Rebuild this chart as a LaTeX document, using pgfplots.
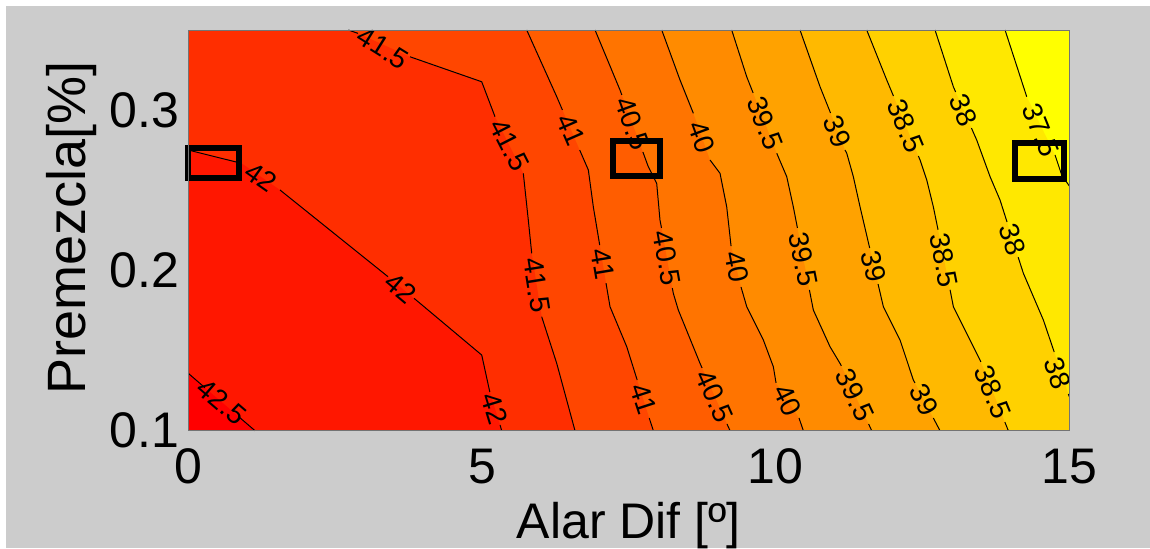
\documentclass[border=0pt]{standalone}
\usepackage{fontspec}
\setmainfont{Liberation Sans}
\usepackage{pgfplots}
\pgfplotsset{compat=1.18}
\definecolor{bgc}{RGB}{204,204,204}
\definecolor{k0}{RGB}{255,0,0}
\definecolor{k1}{RGB}{255,23,0}
\definecolor{k2}{RGB}{255,46,0}
\definecolor{k3}{RGB}{255,70,0}
\definecolor{k4}{RGB}{255,93,0}
\definecolor{k5}{RGB}{255,116,0}
\definecolor{k6}{RGB}{255,139,0}
\definecolor{k7}{RGB}{255,162,0}
\definecolor{k8}{RGB}{255,185,0}
\definecolor{k9}{RGB}{255,209,0}
\definecolor{k10}{RGB}{255,232,0}
\definecolor{k11}{RGB}{255,255,0}
\newcommand{\clfont}{\fontsize{14}{14}\selectfont}
\newcommand{\cl}[4]{\node[rotate=#3, font=\clfont, inner sep=0pt] at (axis cs:#1,#2) {#4};}
\begin{document}
\begin{tikzpicture}
\fill[white] (0,0) rectangle (575pt,274pt);
\fill[bgc] (3pt,0) rectangle (575pt,271pt);
\begin{axis}[
  at={(94.15pt,58.65pt)}, anchor=south west,
  scale only axis, width=440.5pt, height=200.35pt,
  xmin=0, xmax=15, ymin=0.1, ymax=0.35,
  clip=false,
  axis background/.style={fill=k11},
  axis on top,
  xtick={0,5,10,15}, xticklabels={0,5,10,15},
  ytick={0.1,0.2,0.3}, yticklabels={0.1,0.2,0.3},
  major tick length=0pt,
  tick style={draw=none},
  axis line style={draw=black!55, line width=0.5pt},
  xticklabel style={font=\fontsize{25}{25}\selectfont, anchor=north, inner sep=0pt, yshift=-8.8pt},
  yticklabel style={font=\fontsize{25}{25}\selectfont, anchor=east, inner sep=0pt, xshift=-4.5pt},
  xlabel={Alar Dif [º]},
  ylabel={Premezcla[\%]},
  xlabel style={font=\fontsize{25}{25}\selectfont, at={(axis description cs:0.5,-0.178)}, anchor=north, inner sep=0pt},
  ylabel style={font=\fontsize{27}{27}\selectfont, at={(axis description cs:-0.104,0.507)}, anchor=south, inner sep=0pt},
]
% ---------- filled bands (region above each level) ----------
\addplot[draw=none, fill=k10] coordinates {(13.906,0.35) (14.275,0.3084) (14.757,0.2720) (14.871,0.2595) (15,0.2527) (15,0.1) (0,0.1) (0,0.35)};
\addplot[draw=none, fill=k9] coordinates {(12.714,0.35) (13.026,0.3146) (13.065,0.3113) (13.334,0.2888) (13.424,0.2813) (13.651,0.2585) (13.821,0.2439) (13.940,0.2302) (14.129,0.2083) (14.218,0.1982) (14.558,0.1691) (14.743,0.1491) (14.985,0.1229) (15,0.1212) (15,0.1) (0,0.1) (0,0.35)};
\addplot[draw=none, fill=k8] coordinates {(11.551,0.35) (11.892,0.3188) (12.006,0.3088) (12.430,0.2714) (12.459,0.2689) (12.573,0.2564) (12.685,0.2397) (12.765,0.2254) (12.970,0.1879) (13.026,0.1774) (13.310,0.1566) (13.480,0.1441) (13.494,0.1429) (13.903,0.1054) (13.962,0.1) (0,0.1) (0,0.35)};
\addplot[draw=none, fill=k7] coordinates {(10.415,0.35) (10.756,0.3146) (10.935,0.2982) (11.182,0.2751) (11.211,0.2731) (11.323,0.2585) (11.437,0.2397) (11.601,0.2140) (11.744,0.1915) (11.834,0.1774) (12.118,0.1566) (12.345,0.1316) (12.372,0.1298) (12.685,0.1079) (12.799,0.1) (0,0.1) (0,0.35)};
\addplot[draw=none, fill=k6] coordinates {(9.252,0.35) (9.508,0.3208) (9.617,0.3107) (10.019,0.2731) (10.189,0.2585) (10.301,0.2397) (10.371,0.2265) (10.575,0.1878) (10.642,0.1753) (10.926,0.1524) (11.096,0.1420) (11.118,0.1404) (11.583,0.1042) (11.636,0.1) (0,0.1) (0,0.35)};
\addplot[draw=none, fill=k5] coordinates {(8.061,0.35) (8.372,0.3188) (8.599,0.2980) (8.883,0.2689) (9.053,0.2606) (9.167,0.2397) (9.241,0.2152) (9.411,0.1896) (9.508,0.1774) (9.791,0.1566) (9.961,0.1399) (10.007,0.1298) (10.398,0.1079) (10.472,0.1) (0,0.1) (0,0.35)};
\addplot[draw=none, fill=k4] coordinates {(6.925,0.35) (7.350,0.3126) (7.381,0.3095) (7.740,0.2739) (7.832,0.2647) (7.975,0.2543) (8.031,0.2314) (8.057,0.2265) (8.241,0.1890) (8.258,0.1857) (8.343,0.1753) (8.713,0.1420) (8.748,0.1391) (9.172,0.1042) (9.224,0.1) (0,0.1) (0,0.35)};
\addplot[draw=none, fill=k3] coordinates {(5.762,0.35) (6.273,0.3084) (6.370,0.3001) (6.664,0.2751) (6.811,0.2627) (6.896,0.2397) (7.005,0.2158) (7.112,0.1921) (7.180,0.1774) (7.465,0.1524) (7.643,0.1316) (7.848,0.1079) (7.918,0.1) (0,0.1) (0,0.35)};
\addplot[draw=none, fill=k2] coordinates {(2.724,0.35) (2.890,0.3479) (3.775,0.3333) (4.996,0.3177) (5.222,0.2959) (5.704,0.2606) (5.789,0.2314) (5.847,0.2107) (6.017,0.1711) (6.273,0.1420) (6.584,0.1) (0,0.1) (0,0.35)};
\addplot[draw=none, fill=k1] coordinates {(0,0.2751) (0.909,0.2668) (1.561,0.2502) (3.400,0.1961) (3.843,0.1826) (3.945,0.1795) (4.996,0.1472) (5.134,0.1241) (5.308,0.1036) (5.336,0.1) (0,0.1)};
\addplot[draw=none, fill=k0] coordinates {(0,0.1358) (0.284,0.1268) (0.853,0.1089) (1.136,0.1) (0,0.1)};
% ---------- contour lines (gaps where labels sit) ----------
\pgfplotsset{cline/.style={black, line width=0.5pt, unbounded coords=jump, mark=none}}
\addplot[cline] table {
x y
0 0.1358
0.284 0.1268
nan nan
0.853 0.1089
1.136 0.1
};
\addplot[cline] table {
x y
0 0.2751
0.909 0.2668
nan nan
1.561 0.2502
3.400 0.1961
nan nan
3.843 0.1826
3.945 0.1795
4.996 0.1472
5.134 0.1241
nan nan
5.308 0.1036
5.336 0.1
};
\addplot[cline] table {
x y
2.724 0.35
2.890 0.3479
nan nan
3.775 0.3333
4.996 0.3177
5.222 0.2959
nan nan
5.704 0.2606
5.789 0.2314
5.847 0.2107
nan nan
6.017 0.1711
6.273 0.1420
6.584 0.1
};
\addplot[cline] table {
x y
5.762 0.35
6.273 0.3084
6.370 0.3001
nan nan
6.664 0.2751
6.811 0.2627
6.896 0.2397
7.005 0.2158
nan nan
7.112 0.1921
7.180 0.1774
7.465 0.1524
7.643 0.1316
nan nan
7.848 0.1079
7.918 0.1
};
\addplot[cline] table {
x y
6.925 0.35
7.350 0.3126
7.381 0.3095
nan nan
7.740 0.2739
7.832 0.2647
7.975 0.2543
8.031 0.2314
8.057 0.2265
nan nan
8.241 0.1890
8.258 0.1857
8.343 0.1753
8.713 0.1420
8.748 0.1391
nan nan
9.172 0.1042
9.224 0.1
};
\addplot[cline] table {
x y
8.061 0.35
8.372 0.3188
8.599 0.2980
nan nan
8.883 0.2689
9.053 0.2606
9.167 0.2397
9.241 0.2152
nan nan
9.411 0.1896
9.508 0.1774
9.791 0.1566
9.961 0.1399
10.007 0.1298
nan nan
10.398 0.1079
10.472 0.1
};
\addplot[cline] table {
x y
9.252 0.35
9.508 0.3208
9.617 0.3107
nan nan
10.019 0.2731
10.189 0.2585
10.301 0.2397
10.371 0.2265
nan nan
10.575 0.1878
10.642 0.1753
10.926 0.1524
11.096 0.1420
11.118 0.1404
nan nan
11.583 0.1042
11.636 0.1
};
\addplot[cline] table {
x y
10.415 0.35
10.756 0.3146
10.935 0.2982
nan nan
11.182 0.2751
11.211 0.2731
11.323 0.2585
11.437 0.2397
11.601 0.2140
nan nan
11.744 0.1915
11.834 0.1774
12.118 0.1566
12.345 0.1316
12.372 0.1298
nan nan
12.685 0.1079
12.799 0.1
};
\addplot[cline] table {
x y
11.551 0.35
11.892 0.3188
12.006 0.3088
nan nan
12.430 0.2714
12.459 0.2689
12.573 0.2564
12.685 0.2397
12.765 0.2254
nan nan
12.970 0.1879
13.026 0.1774
13.310 0.1566
13.480 0.1441
13.494 0.1429
nan nan
13.903 0.1054
13.962 0.1
};
\addplot[cline] table {
x y
12.714 0.35
13.026 0.3146
13.065 0.3113
nan nan
13.334 0.2888
13.424 0.2813
13.651 0.2585
13.821 0.2439
13.940 0.2302
nan nan
14.129 0.2083
14.218 0.1982
14.558 0.1691
14.743 0.1491
nan nan
14.985 0.1229
15 0.1212
};
\addplot[cline] table {
x y
13.906 0.35
14.275 0.3084
nan nan
14.757 0.2720
14.871 0.2595
15 0.2527
};
% ---------- contour labels ----------
\cl{0.569}{0.1179}{-40.7}{42.5}
\cl{1.238}{0.2583}{-35}{42}
\cl{3.622}{0.1890}{-40}{42}
\cl{5.219}{0.1138}{-73}{42}
\cl{3.315}{0.3387}{-32}{41.5}
\cl{5.464}{0.2782}{-63}{41.5}
\cl{5.932}{0.1909}{-81}{41.5}
\cl{6.516}{0.2876}{-66.5}{41}
\cl{7.061}{0.2040}{-80.5}{41}
\cl{7.746}{0.1198}{-72}{41}
\cl{7.562}{0.2916}{-70}{40.5}
\cl{8.151}{0.2077}{-80}{40.5}
\cl{8.960}{0.1216}{-66}{40.5}
\cl{8.742}{0.2834}{-70}{40}
\cl{9.338}{0.2023}{-79}{40}
\cl{10.203}{0.1188}{-64}{40}
\cl{9.819}{0.2920}{-68.6}{39.5}
\cl{10.473}{0.2071}{-79}{39.5}
\cl{11.352}{0.1223}{-65}{39.5}
\cl{11.057}{0.2867}{-68}{39}
\cl{11.672}{0.2027}{-77}{39}
\cl{12.527}{0.1192}{-62}{39}
\cl{12.217}{0.2901}{-67.4}{38.5}
\cl{12.867}{0.2065}{-78.7}{38.5}
\cl{13.698}{0.1241}{-68}{38.5}
\cl{13.199}{0.3000}{-66.3}{38}
\cl{14.034}{0.2193}{-72.4}{38}
\cl{14.808}{0.1360}{-71.3}{38}
\cl{14.519}{0.2876}{-68}{37.5}
% ---------- highlight boxes ----------
\addplot[black, line width=3pt, mark=none] coordinates {(0,0.2578) (0.858,0.2578) (0.858,0.2764) (0,0.2764)} -- cycle;
\addplot[black, line width=3pt, mark=none] coordinates {(7.232,0.2587) (8.026,0.2587) (8.026,0.2805) (7.232,0.2805)} -- cycle;
\addplot[black, line width=3pt, mark=none] coordinates {(14.069,0.2573) (14.903,0.2573) (14.903,0.2796) (14.069,0.2796)} -- cycle;
\end{axis}
\pgfresetboundingbox
\useasboundingbox (0,0) rectangle (575pt,274pt);
\end{tikzpicture}
\end{document}
